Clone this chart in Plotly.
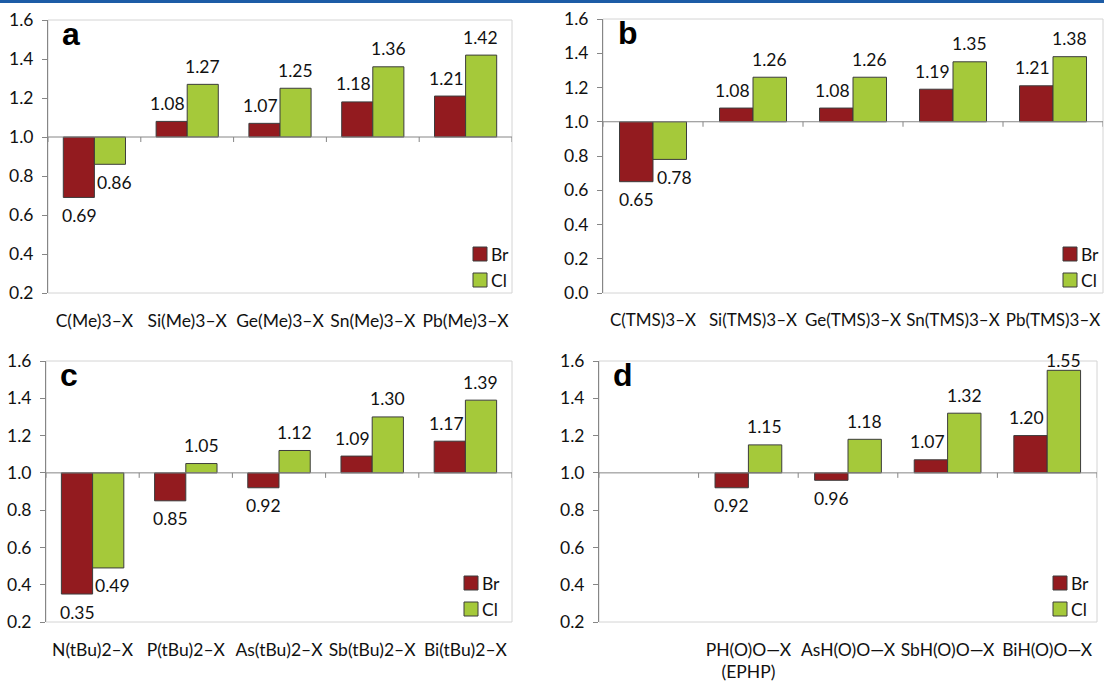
import plotly.graph_objects as go

# ---- data -----------------------------------------------------------------
cats_a = ["C(Me)3–X", "Si(Me)3–X", "Ge(Me)3–X", "Sn(Me)3–X", "Pb(Me)3–X"]
br_a = [0.69, 1.08, 1.07, 1.18, 1.21]
cl_a = [0.86, 1.27, 1.25, 1.36, 1.42]

cats_b = ["C(TMS)3–X", "Si(TMS)3–X", "Ge(TMS)3–X", "Sn(TMS)3–X", "Pb(TMS)3–X"]
br_b = [0.65, 1.08, 1.08, 1.19, 1.21]
cl_b = [0.78, 1.26, 1.26, 1.35, 1.38]

cats_c = ["N(tBu)2–X", "P(tBu)2–X", "As(tBu)2–X", "Sb(tBu)2–X", "Bi(tBu)2–X"]
br_c = [0.35, 0.85, 0.92, 1.09, 1.17]
cl_c = [0.49, 1.05, 1.12, 1.30, 1.39]

cats_d = [" ", "PH(O)O—X<br>(EPHP)", "AsH(O)O—X", "SbH(O)O—X", "BiH(O)O—X"]
br_d = [None, 0.92, 0.96, 1.07, 1.20]
cl_d = [None, 1.15, 1.18, 1.32, 1.55]

series_names = ["Br", "Cl"]
BASE = 1.0

# ---- styling ----------------------------------------------------------------
W, H = 1104, 681
FONT = "Lato"
FS = 17.5
TXT = "#111111"
BR_COLOR = "#931b1f"
CL_COLOR = "#a5c93a"
SERIES_COLORS = [BR_COLOR, CL_COLOR]
EDGE = "#3c3c3c"
AXIS_GREY = "#868686"
BORDER_GREY = "#d4d4d4"

# panel boxes in pixels (left, right, top, bottom) and legend inset from the right edge
panels = [
    dict(cats=cats_a, br=br_a, cl=cl_a, ymin=0.2, ymax=1.6, tag="a",
         box=(48, 512, 20, 293), key_dx=39, cat_fs=FS),
    dict(cats=cats_b, br=br_b, cl=cl_b, ymin=0.0, ymax=1.6, tag="b",
         box=(603, 1103, 19, 293), key_dx=40, cat_fs=17),
    dict(cats=cats_c, br=br_c, cl=cl_c, ymin=0.2, ymax=1.6, tag="c",
         box=(46, 512, 361, 622), key_dx=48, cat_fs=FS),
    dict(cats=cats_d, br=br_d, cl=cl_d, ymin=0.2, ymax=1.6, tag="d",
         box=(599, 1097, 361, 622), key_dx=44, cat_fs=FS),
]

fig = go.Figure()
shapes = []
annotations = []
LABEL_GAP = 18  # px between bar end and centre of its value label
KEY = 14        # legend swatch size, px
KEY_ROWS = [39, 13]  # swatch centres above the panel bottom, px

for k, p in enumerate(panels, start=1):
    sfx = "" if k == 1 else str(k)
    xa, ya = f"x{sfx}", f"y{sfx}"
    left, right, top, bottom = p["box"]
    xdom = [left / W, right / W]
    ydom = [1 - bottom / H, 1 - top / H]
    px_per_unit = (bottom - top) / (p["ymax"] - p["ymin"])

    for name, vals, col in zip(series_names, [p["br"], p["cl"]], SERIES_COLORS):
        fig.add_trace(go.Bar(
            x=p["cats"],
            y=[None if v is None else v - BASE for v in vals],
            base=BASE,
            name=name,
            marker=dict(color=col, line=dict(color=EDGE, width=1)),
            xaxis=xa, yaxis=ya, showlegend=False,
            offsetgroup=name,
            hovertemplate=name + ": %{customdata:.2f}<extra></extra>",
            customdata=vals,
        ))
        # value labels above (or below) each bar end
        for i, v in enumerate(vals):
            if v is None:
                continue
            off = 0.165 if name == "Cl" else -0.165
            if v >= BASE:
                room = (p["ymax"] - v) * px_per_unit
                ys = min(LABEL_GAP, room)
            else:
                ys = -LABEL_GAP
            xs = 0
            if name == "Br" and v >= BASE:
                xs = -4
            if name == "Cl" and v < BASE:
                xs = 5
            annotations.append(dict(
                x=i + off, y=v, xref=xa, yref=ya, text=f"{v:.2f}",
                showarrow=False, yshift=ys, xshift=xs,
                xanchor="center", yanchor="middle",
                font=dict(family=FONT, size=FS, color=TXT),
            ))

    fig.update_layout({
        f"xaxis{sfx}": dict(
            domain=xdom, anchor=ya, type="category",
            range=[-0.5, len(p["cats"]) - 0.5],
            showline=False, ticks="", showgrid=False, zeroline=False,
            tickangle=0,
            tickfont=dict(family=FONT, size=p["cat_fs"], color=TXT),
            ticklabelstandoff=15, automargin=False, fixedrange=True,
        ),
        f"yaxis{sfx}": dict(
            domain=ydom, anchor=xa, range=[p["ymin"], p["ymax"]], dtick=0.2,
            tickformat=".1f", showgrid=False, zeroline=False,
            showline=True, linecolor=AXIS_GREY, linewidth=1,
            ticks="outside", ticklen=5, tickcolor=AXIS_GREY,
            tickfont=dict(family=FONT, size=FS, color=TXT),
            ticklabelstandoff=5, automargin=False, fixedrange=True,
        ),
    })

    # light border round the plotting box
    shapes.append(dict(type="rect", xref=f"{xa} domain", yref=f"{ya} domain",
                       x0=0, x1=1, y0=0, y1=1, line=dict(color=BORDER_GREY, width=1),
                       layer="below"))
    # category axis drawn through the 1.0 baseline, with boundary ticks
    shapes.append(dict(type="line", xref=f"{xa} domain", yref=ya,
                       x0=0, x1=1, y0=BASE, y1=BASE,
                       line=dict(color=AXIS_GREY, width=1), layer="above"))
    for b in range(len(p["cats"]) + 1):
        shapes.append(dict(type="line", xref=xa, yref=ya, ysizemode="pixel",
                           yanchor=BASE, x0=b - 0.5, x1=b - 0.5, y0=0, y1=-5,
                           line=dict(color=AXIS_GREY, width=1)))

    # key: swatch + series name, lower right inside the panel
    for name, col, row in zip(series_names, SERIES_COLORS, KEY_ROWS):
        shapes.append(dict(type="rect", xref=f"{xa} domain", yref=f"{ya} domain",
                           xsizemode="pixel", ysizemode="pixel", xanchor=1, yanchor=0,
                           x0=-p["key_dx"], x1=-p["key_dx"] + KEY,
                           y0=row - KEY / 2, y1=row + KEY / 2,
                           fillcolor=col, line=dict(color=EDGE, width=1)))
        annotations.append(dict(
            x=1, y=0, xref=f"{xa} domain", yref=f"{ya} domain",
            xshift=-p["key_dx"] + KEY + 2, yshift=row,
            text=name, showarrow=False, xanchor="left", yanchor="middle",
            font=dict(family=FONT, size=FS, color=TXT),
        ))

    # panel letter
    annotations.append(dict(
        x=0.025, y=1, xref=f"{xa} domain", yref=f"{ya} domain", yshift=6,
        text=f"<b>{p['tag']}</b>", showarrow=False, xanchor="left", yanchor="top",
        font=dict(family="Liberation Sans", size=32, color="#000000"),
    ))

# thin rule along the top edge of the figure
shapes.append(dict(type="line", xref="paper", yref="paper", x0=0, x1=1,
                   y0=1 - 1.5 / H, y1=1 - 1.5 / H,
                   line=dict(color="#1d5ca6", width=3)))

fig.update_layout(
    width=W, height=H,
    margin=dict(l=0, r=0, t=0, b=0, autoexpand=False),
    paper_bgcolor="white", plot_bgcolor="white",
    barmode="group", bargap=0.33, bargroupgap=0,
    shapes=shapes, annotations=annotations,
    font=dict(family=FONT, size=FS, color=TXT),
    showlegend=False,
)

fig.write_html("out.html")
